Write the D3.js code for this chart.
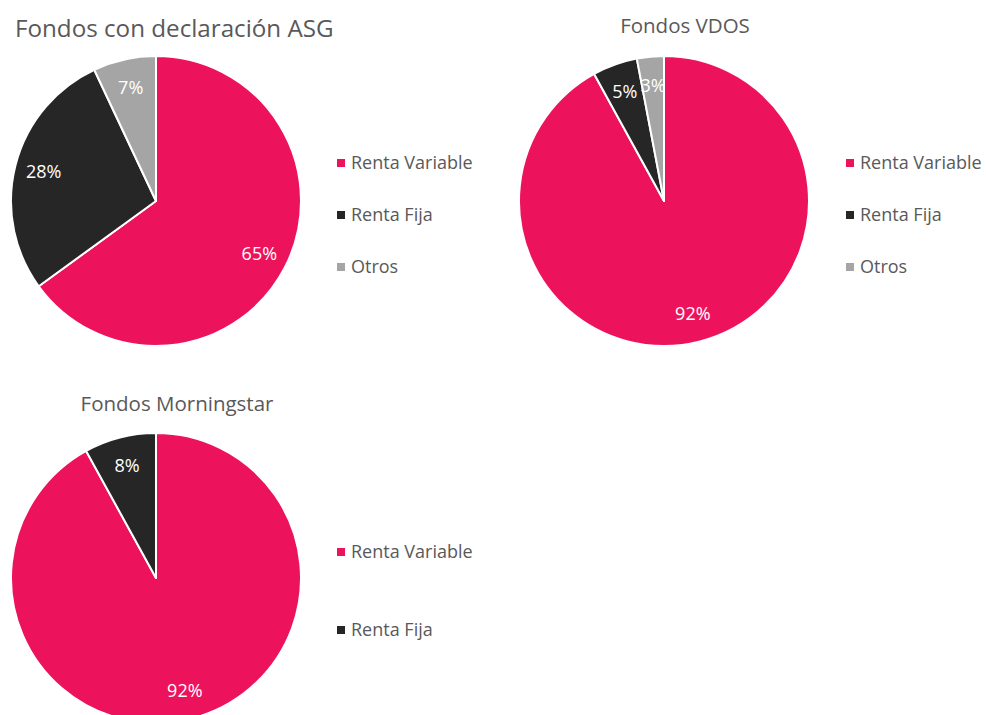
<!DOCTYPE html>
<html>
<head>
<meta charset="utf-8">
<script src="https://cdn.jsdelivr.net/npm/d3@7"></script>
<style>
  body { margin: 0; background: #fff; }
  svg { display: block; font-family: "Open Sans", "Noto Sans", sans-serif; }
</style>
</head>
<body>
<svg width="986" height="715"></svg>
<script>
const categories = ["Renta Variable", "Renta Fija", "Otros"];
const colors = ["#ED125C", "#262626", "#A5A5A5"];

const titles = ["Fondos con declaración ASG", "Fondos VDOS", "Fondos Morningstar"];
const asgValues = [65, 28, 7];
const vdosValues = [92, 5, 3];
const morningstarValues = [92, 8];

const svg = d3.select("svg");
const radius = 145;

const charts = [
  { title: titles[0], values: asgValues, cx: 156, cy: 201, titleX: 15, titleY: 37, titleAnchor: "start", titleSize: 24.2, legendX: 337, legendY: [163, 215, 267] },
  { title: titles[1], values: vdosValues, cx: 664, cy: 201, titleX: 685, titleY: 33, titleAnchor: "middle", titleSize: 20.5, legendX: 846, legendY: [163, 215, 267] },
  { title: titles[2], values: morningstarValues, cx: 156, cy: 578, titleX: 177, titleY: 411, titleAnchor: "middle", titleSize: 20.5, legendX: 337, legendY: [552, 630] }
];

const color = d3.scaleOrdinal().domain(categories).range(colors);
const pie = d3.pie().sort(null).value((d) => d.value);
const arc = d3.arc().innerRadius(0).outerRadius(radius);
const labelArc = d3.arc().innerRadius(radius * 0.8).outerRadius(radius * 0.8);

charts.forEach((c) => {
  const data = c.values.map((v, i) => ({ name: categories[i], value: v }));

  const g = svg.append("g").attr("transform", `translate(${c.cx},${c.cy})`);

  g.selectAll("path")
    .data(pie(data))
    .enter()
    .append("path")
    .attr("d", arc)
    .attr("fill", (d) => color(d.data.name))
    .attr("stroke", "#fff")
    .attr("stroke-width", 2)
    .attr("stroke-linejoin", "round");

  g.selectAll("text")
    .data(pie(data))
    .enter()
    .append("text")
    .attr("transform", (d) => `translate(${labelArc.centroid(d)})`)
    .attr("text-anchor", "middle")
    .attr("dy", "0.35em")
    .attr("fill", "#fff")
    .style("font-size", "18px")
    .text((d) => d.data.value + "%");

  svg.append("text")
    .attr("x", c.titleX)
    .attr("y", c.titleY)
    .attr("text-anchor", c.titleAnchor)
    .attr("fill", "#595959")
    .style("font-size", c.titleSize + "px")
    .text(c.title);

  // legend
  const legend = svg.selectAll(null)
    .data(data)
    .enter()
    .append("g")
    .attr("transform", (d, i) => `translate(${c.legendX},${c.legendY[i]})`);

  legend.append("rect")
    .attr("x", 0)
    .attr("y", -4)
    .attr("width", 8)
    .attr("height", 8)
    .attr("fill", (d) => color(d.name));

  legend.append("text")
    .attr("x", 14)
    .attr("dy", "0.35em")
    .attr("fill", "#595959")
    .style("font-size", "18px")
    .text((d) => d.name);
});
</script>
</body>
</html>
